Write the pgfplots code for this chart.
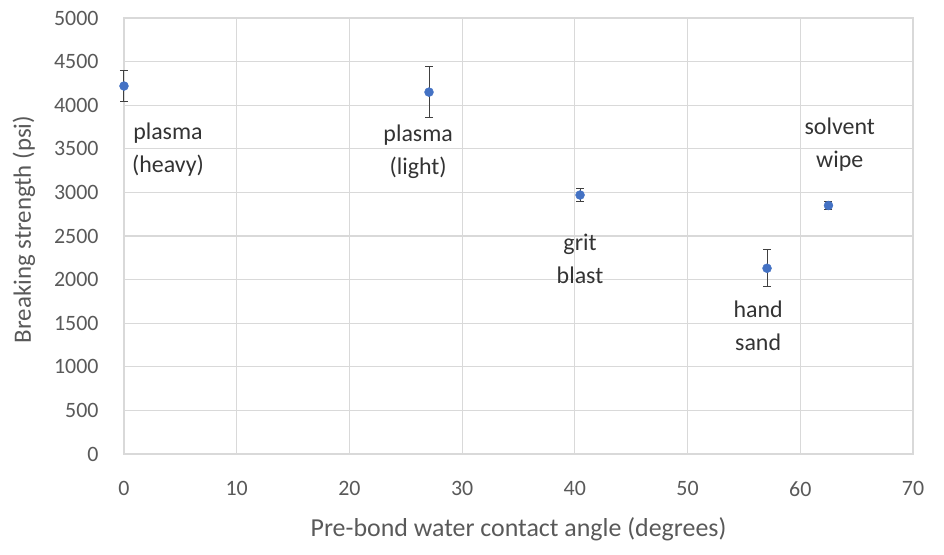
\documentclass[border=0pt]{standalone}
\usepackage{pgfplots}
\pgfplotsset{compat=1.18}
\usepackage{fontspec}
\setmainfont{Carlito}
\definecolor{ptblue}{HTML}{4472C4}
\definecolor{gridgray}{HTML}{D9D9D9}
\definecolor{ticktext}{HTML}{595959}
\begin{document}
\begin{tikzpicture}
\path[use as bounding box] (-124bp,-101bp) rectangle (820bp,454bp);
\begin{axis}[
  scale only axis,
  width=789bp, height=436bp,
  xmin=0, xmax=70, ymin=0, ymax=5000,
  xtick={0,10,...,70}, ytick={0,500,...,5000},
  grid=major,
  major grid style={gridgray, line width=1.2pt},
  axis line style={gridgray, line width=1.2pt},
  tick style={draw=none},
  /pgf/number format/assume math mode=true,
  /pgf/number format/1000 sep={},
  ticklabel style={font=\fontsize{22}{26}\selectfont, text=ticktext},
  yticklabel style={xshift=-22bp},
  xticklabel style={yshift=-24bp},
  xlabel={Pre-bond water contact angle (degrees)},
  ylabel={Breaking strength (psi)},
  label style={font=\fontsize{26}{30}\selectfont, text=ticktext},
  xlabel style={at={(axis description cs:0.5,-0.172)}, anchor=center},
  ylabel style={at={(axis description cs:-0.127,0.515)}, anchor=center, font=\fontsize{25}{29}\selectfont},
  clip=false,
]
\addplot[only marks, mark=*, mark size=4.5bp, mark options={fill=ptblue, draw=ptblue},
  error bars/.cd, y dir=both, y explicit,
  error bar style={black!75, line width=1pt},
  error mark options={black!75, line width=1pt, mark size=4bp, rotate=90}]
  table[x=x, y=y, y error=e] {
x y e
0 4220 180
27.06 4150 290
40.46 2970 70
57.05 2130 210
62.5 2850 50
};
\begin{scope}[every node/.style={align=center, font=\fontsize{24}{33}\selectfont, text=black!80}]
\node at (axis cs:3.9,3486) {plasma\\(heavy)};
\node at (axis cs:26.1,3463) {plasma\\(light)};
\node at (axis cs:40.46,2236) {grit\\blast};
\node at (axis cs:56.26,1468) {hand\\sand};
\node at (axis cs:63.5,3544) {solvent\\wipe};
\end{scope}
\end{axis}
\end{tikzpicture}
\end{document}
